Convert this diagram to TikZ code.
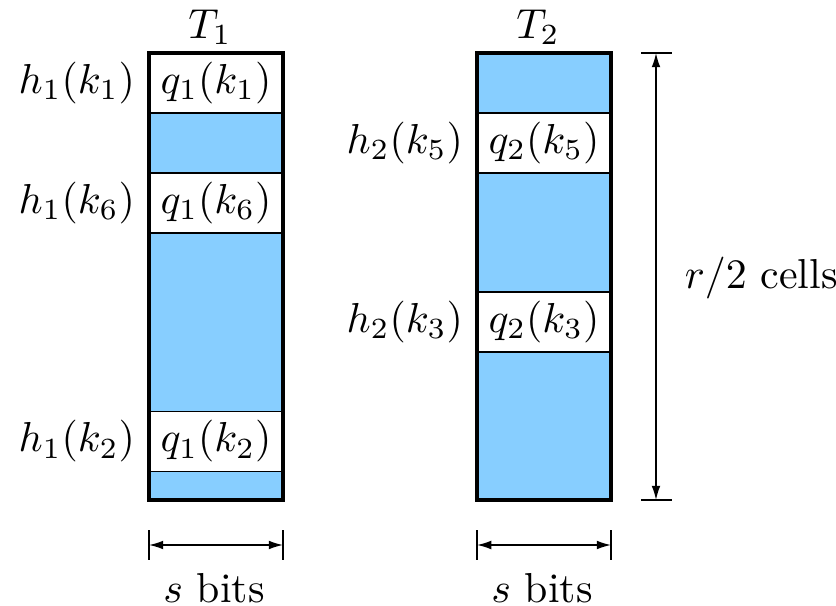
\documentclass[tikz,border=0pt]{standalone}
\usetikzlibrary{arrows.meta}
\definecolor{cellblue}{RGB}{135,206,255}
\begin{document}
\begin{tikzpicture}[x=0.2387pt,y=-0.2387pt,
  wcell/.style={draw, fill=white, line width=0.35pt, minimum width=31.99pt, minimum height=14.32pt, inner sep=0pt},
  lab/.style={anchor=east, inner sep=0pt},
  frame/.style={draw, line width=0.85pt},
  dim/.style={line width=0.35pt, {Latex[length=3.4pt,width=2.1pt]}-{Latex[length=3.4pt,width=2.1pt]}},
  tick/.style={line width=0.35pt}]
\useasboundingbox (0,0) rectangle (836,605);
% T1
\fill[cellblue] (149,53) rectangle (283,500);
\node[wcell] (c11) at (216,83) {$q_1(k_1)$};
\node[wcell] (c16) at (216,203) {$q_1(k_6)$};
\node[wcell] (c12) at (216,441.5) {$q_1(k_2)$};
\draw[frame] (149,53) rectangle (283,500);
\node (t1) at (210,27) {$T_1$};
\node[lab] (l11) at ([xshift=-3pt]c11.west) {$h_1(k_1)$};
\node[lab] (l16) at ([xshift=-3pt]c16.west) {$h_1(k_6)$};
\node[lab] (l12) at ([xshift=-3pt]c12.west) {$h_1(k_2)$};
% T2
\fill[cellblue] (477,53) rectangle (611,500);
\node[wcell] (c25) at (544,143) {$q_2(k_5)$};
\node[wcell] (c23) at (544,322) {$q_2(k_3)$};
\draw[frame] (477,53) rectangle (611,500);
\node (t2) at (538,27) {$T_2$};
\node[lab] (l25) at ([xshift=-3pt]c25.west) {$h_2(k_5)$};
\node[lab] (l23) at ([xshift=-3pt]c23.west) {$h_2(k_3)$};
% r/2 cells dimension
\coordinate (rt) at (656,53);
\coordinate (rb) at (656,500);
\draw[tick] (641,53) -- (672,53);
\draw[tick] (641,500) -- (672,500);
\draw[dim] (rt) -- (rb);
\node[anchor=west, inner sep=0pt] (rl) at (684,278) {$r/2$ cells};
% s bits T1
\coordinate (s1l) at (149,545);
\coordinate (s1r) at (283,545);
\draw[tick] (149,530) -- (149,560);
\draw[tick] (283,530) -- (283,560);
\draw[dim] (s1l) -- (s1r);
\node (s1) at (214,588) {$s$ bits};
% s bits T2
\coordinate (s2l) at (477,545);
\coordinate (s2r) at (611,545);
\draw[tick] (477,530) -- (477,560);
\draw[tick] (611,530) -- (611,560);
\draw[dim] (s2l) -- (s2r);
\node (s2) at (542,588) {$s$ bits};
\end{tikzpicture}
\end{document}
